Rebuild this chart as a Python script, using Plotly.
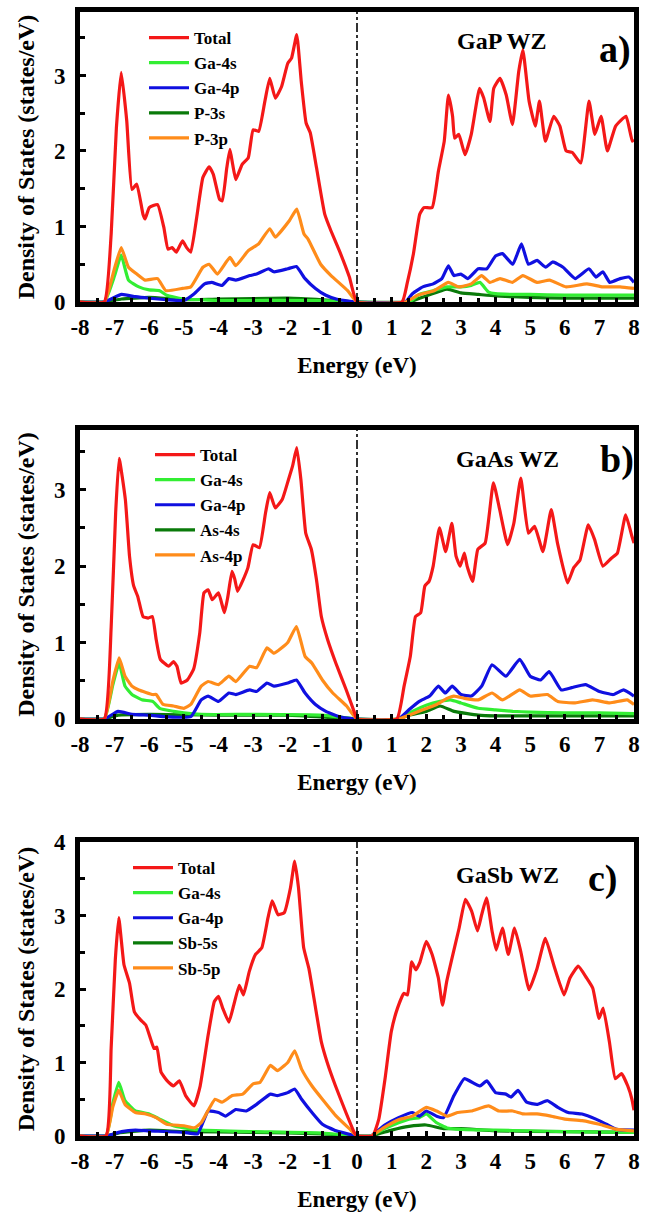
import plotly.graph_objects as go

# ---------------- DATA (Energy eV, DOS states/eV) ----------------
A_TOTAL = [(-8,0),(-7.3,0),(-7.1,0.9),(-6.95,2.3),(-6.81,3.04),(-6.65,2.4),(-6.5,1.49),(-6.36,1.56),(-6.18,1.16),(-6.12,1.1),(-6.0,1.25),(-5.76,1.29),(-5.58,0.99),(-5.46,0.70),(-5.34,0.72),(-5.22,0.66),(-5.04,0.81),(-4.92,0.72),(-4.8,0.66),(-4.63,1.12),(-4.45,1.65),(-4.27,1.79),(-4.15,1.69),(-3.97,1.36),(-3.89,1.34),(-3.76,1.78),(-3.67,2.02),(-3.59,1.82),(-3.5,1.62),(-3.32,1.82),(-3.14,1.91),(-3.0,2.28),(-2.84,2.26),(-2.66,2.66),(-2.52,2.96),(-2.36,2.70),(-2.18,2.85),(-2.0,3.16),(-1.89,3.23),(-1.74,3.54),(-1.61,2.92),(-1.47,2.37),(-1.35,2.24),(-1.17,1.78),(-0.93,1.16),(-0.75,0.94),(-0.51,0.68),(-0.22,0.33),(0,0),(1.3,0),(1.45,0.25),(1.63,0.64),(1.81,1.16),(1.93,1.25),(2.17,1.25),(2.35,1.73),(2.52,2.13),(2.64,2.74),(2.76,2.46),(2.82,2.17),(2.94,2.22),(3.12,1.95),(3.3,2.22),(3.54,2.83),(3.66,2.70),(3.84,2.39),(3.95,2.83),(4.13,2.96),(4.31,2.74),(4.49,2.35),(4.67,3.05),(4.79,3.34),(4.97,2.66),(5.15,2.33),(5.27,2.66),(5.44,2.13),(5.68,2.46),(5.86,2.33),(6.04,2.0),(6.22,1.98),(6.46,1.84),(6.7,2.66),(6.87,2.22),(7.05,2.46),(7.23,2.0),(7.47,2.33),(7.77,2.46),(7.95,2.13),(8,2.15)]
A_GA4S = [(-8,0),(-7.3,0),(-7.0,0.35),(-6.81,0.62),(-6.6,0.29),(-6.3,0.2),(-6.0,0.16),(-5.7,0.15),(-5.5,0.09),(-5.0,0.04),(-4.5,0.03),(-4,0.02),(-1,0.02),(0,0),(1.5,0),(1.8,0.1),(2.2,0.15),(2.6,0.2),(3.0,0.2),(3.3,0.22),(3.55,0.26),(3.8,0.13),(4.0,0.11),(4.5,0.1),(5,0.1),(6,0.09),(7,0.09),(8,0.09)]
A_GA4P = [(-8,0),(-7.3,0),(-6.8,0.1),(-6.4,0.07),(-6,0.05),(-5.5,0.03),(-5,0.02),(-4.7,0.11),(-4.4,0.24),(-4.2,0.26),(-3.9,0.22),(-3.7,0.31),(-3.5,0.29),(-3.1,0.35),(-2.9,0.37),(-2.55,0.44),(-2.4,0.4),(-2.0,0.44),(-1.75,0.47),(-1.5,0.31),(-1.2,0.18),(-0.9,0.09),(-0.6,0.04),(-0.2,0.01),(0,0),(1.4,0),(1.6,0.11),(1.9,0.2),(2.2,0.24),(2.45,0.31),(2.64,0.48),(2.8,0.35),(3.0,0.37),(3.2,0.31),(3.5,0.44),(3.75,0.44),(4.0,0.61),(4.2,0.64),(4.5,0.5),(4.75,0.77),(4.95,0.5),(5.2,0.55),(5.45,0.46),(5.65,0.53),(5.95,0.46),(6.3,0.31),(6.7,0.44),(6.9,0.33),(7.1,0.4),(7.3,0.26),(7.6,0.31),(7.85,0.33),(8,0.26)]
A_X_S = [(-8,0),(-7.3,0),(-6.8,0.04),(-6,0.06),(-5,0.03),(-4,0.04),(-2,0.05),(-1,0.03),(0,0),(1.5,0),(2,0.08),(2.6,0.17),(3,0.12),(3.5,0.1),(4,0.08),(5,0.06),(6,0.05),(8,0.05)]
A_X_P = [(-8,0),(-7.3,0),(-7.0,0.45),(-6.81,0.72),(-6.6,0.46),(-6.36,0.37),(-6.12,0.29),(-5.76,0.31),(-5.52,0.15),(-5.04,0.18),(-4.8,0.2),(-4.45,0.46),(-4.27,0.5),(-4.03,0.37),(-3.67,0.59),(-3.5,0.48),(-3.14,0.68),(-2.84,0.77),(-2.52,0.97),(-2.36,0.86),(-1.95,1.08),(-1.74,1.23),(-1.53,0.9),(-1.41,0.83),(-1.05,0.5),(-0.75,0.35),(-0.27,0.15),(0,0),(1.4,0),(1.75,0.09),(2.23,0.15),(2.64,0.26),(2.94,0.2),(3.3,0.24),(3.6,0.35),(3.84,0.26),(4.13,0.31),(4.49,0.26),(4.79,0.35),(5.2,0.26),(5.56,0.29),(6.04,0.2),(6.64,0.24),(7.1,0.2),(7.6,0.2),(8,0.18)]

B_TOTAL = [(-8,0),(-7.3,0),(-7.1,1.2),(-6.97,2.7),(-6.87,3.41),(-6.69,2.87),(-6.57,2.13),(-6.45,1.74),(-6.33,1.6),(-6.18,1.34),(-6.03,1.32),(-5.91,1.34),(-5.8,1.04),(-5.68,0.78),(-5.44,0.69),(-5.3,0.75),(-5.2,0.69),(-5.08,0.47),(-4.9,0.51),(-4.72,0.65),(-4.54,1.13),(-4.42,1.65),(-4.3,1.69),(-4.18,1.56),(-4.0,1.65),(-3.83,1.39),(-3.73,1.6),(-3.61,1.93),(-3.53,1.83),(-3.45,1.67),(-3.29,1.82),(-3.15,1.98),(-3.0,2.28),(-2.82,2.24),(-2.64,2.7),(-2.52,2.96),(-2.36,2.76),(-2.16,2.87),(-1.98,3.13),(-1.86,3.31),(-1.74,3.55),(-1.62,3.13),(-1.48,2.43),(-1.32,2.22),(-1.17,1.82),(-1.03,1.34),(-0.85,1.04),(-0.61,0.73),(-0.31,0.38),(-0.07,0.08),(0,0),(1.15,0),(1.36,0.43),(1.54,0.82),(1.69,1.34),(1.84,1.39),(1.96,1.74),(2.08,1.8),(2.2,2.0),(2.38,2.5),(2.56,2.19),(2.74,2.56),(2.86,2.13),(2.98,2.0),(3.1,2.17),(3.18,2.0),(3.34,1.8),(3.49,2.22),(3.7,2.3),(3.94,3.09),(4.12,2.74),(4.35,2.28),(4.53,2.56),(4.73,3.15),(4.95,2.43),(5.13,2.52),(5.37,2.19),(5.61,2.74),(5.79,2.3),(6.08,1.78),(6.26,1.98),(6.44,2.08),(6.68,2.54),(6.86,2.35),(7.1,2.0),(7.34,2.1),(7.52,2.17),(7.76,2.67),(7.94,2.39),(8,2.3)]
B_GA4S = [(-8,0),(-7.3,0),(-7.05,0.45),(-6.87,0.73),(-6.7,0.43),(-6.5,0.32),(-6.2,0.25),(-5.9,0.23),(-5.7,0.14),(-5.3,0.1),(-5.0,0.08),(-4.5,0.06),(-3,0.06),(-1,0.05),(0,0),(1.2,0),(1.6,0.1),(2.0,0.18),(2.4,0.23),(2.7,0.25),(3.0,0.21),(3.5,0.14),(4,0.12),(4.5,0.1),(5,0.09),(6,0.08),(7,0.08),(8,0.07)]
B_GA4P = [(-8,0),(-7.3,0),(-6.9,0.1),(-6.5,0.06),(-6,0.05),(-5.5,0.03),(-4.8,0.03),(-4.5,0.25),(-4.3,0.3),(-4.0,0.23),(-3.7,0.34),(-3.5,0.32),(-3.1,0.38),(-2.9,0.36),(-2.6,0.47),(-2.4,0.43),(-2.0,0.47),(-1.75,0.51),(-1.5,0.34),(-1.2,0.19),(-0.9,0.1),(-0.5,0.03),(0,0),(1.2,0),(1.5,0.12),(1.8,0.23),(2.1,0.3),(2.35,0.43),(2.55,0.34),(2.75,0.43),(3.0,0.32),(3.3,0.3),(3.6,0.43),(3.9,0.71),(4.3,0.56),(4.7,0.78),(5.0,0.56),(5.3,0.51),(5.55,0.62),(5.9,0.38),(6.2,0.41),(6.6,0.45),(7.0,0.36),(7.4,0.32),(7.7,0.38),(8,0.3)]
B_X_S = [(-8,0),(-7.3,0),(-6.9,0.05),(-6,0.06),(-4,0.05),(-2,0.05),(0,0),(1.2,0),(1.5,0.05),(2.0,0.1),(2.4,0.17),(2.8,0.1),(3.5,0.05),(4,0.04),(8,0.04)]
B_X_P = [(-8,0),(-7.3,0),(-7.05,0.5),(-6.87,0.8),(-6.7,0.56),(-6.5,0.43),(-6.3,0.38),(-5.9,0.32),(-5.8,0.32),(-5.6,0.19),(-5.3,0.17),(-5.0,0.14),(-4.8,0.19),(-4.5,0.43),(-4.3,0.49),(-4.0,0.45),(-3.7,0.56),(-3.5,0.49),(-3.1,0.69),(-2.9,0.67),(-2.6,0.93),(-2.4,0.86),(-2.0,1.0),(-1.75,1.21),(-1.5,0.82),(-1.3,0.73),(-1.0,0.51),(-0.7,0.34),(-0.3,0.17),(0,0),(1.2,0),(1.5,0.05),(1.9,0.12),(2.3,0.19),(2.6,0.27),(2.8,0.3),(3.1,0.27),(3.5,0.25),(3.9,0.34),(4.2,0.25),(4.7,0.38),(5.0,0.3),(5.5,0.32),(5.8,0.23),(6.3,0.21),(6.8,0.25),(7.3,0.21),(7.8,0.25),(8,0.19)]

C_TOTAL = [(-8,0),(-7.25,0),(-7.1,1.2),(-6.98,2.4),(-6.88,2.97),(-6.73,2.33),(-6.57,2.08),(-6.43,1.69),(-6.25,1.58),(-6.1,1.51),(-5.96,1.32),(-5.86,1.19),(-5.78,1.21),(-5.66,0.87),(-5.48,0.75),(-5.3,0.68),(-5.13,0.75),(-4.95,0.55),(-4.71,0.41),(-4.53,0.68),(-4.3,1.37),(-4.12,1.83),(-4.0,1.9),(-3.88,1.74),(-3.7,1.55),(-3.56,1.78),(-3.4,2.05),(-3.28,1.92),(-3.11,2.24),(-2.93,2.47),(-2.75,2.56),(-2.57,2.97),(-2.45,3.2),(-2.28,3.01),(-2.1,3.04),(-1.92,3.38),(-1.8,3.74),(-1.69,3.38),(-1.54,2.56),(-1.39,2.28),(-1.21,1.78),(-1.03,1.28),(-0.86,1.0),(-0.62,0.68),(-0.32,0.32),(-0.08,0.05),(0,0),(0.45,0),(0.63,0.23),(0.81,0.78),(0.99,1.42),(1.17,1.74),(1.35,1.94),(1.46,1.92),(1.58,2.37),(1.7,2.26),(1.82,2.37),(2.0,2.65),(2.17,2.47),(2.35,2.15),(2.47,1.78),(2.59,2.1),(2.77,2.47),(2.95,2.83),(3.13,3.22),(3.31,3.06),(3.48,2.79),(3.6,3.01),(3.74,3.24),(3.9,2.79),(4.02,2.53),(4.2,2.83),(4.37,2.47),(4.55,2.83),(4.73,2.51),(4.97,1.99),(5.2,2.28),(5.44,2.69),(5.68,2.33),(5.98,1.92),(6.15,2.15),(6.39,2.31),(6.63,2.15),(6.81,2.01),(6.99,1.6),(7.11,1.74),(7.29,1.28),(7.46,0.78),(7.64,0.85),(7.82,0.68),(7.94,0.5),(8,0.35)]
C_GA4S = [(-8,0),(-7.25,0),(-7.05,0.45),(-6.88,0.73),(-6.7,0.48),(-6.4,0.34),(-6.0,0.3),(-5.7,0.23),(-5.3,0.14),(-5.0,0.11),(-4.5,0.08),(-3,0.06),(-1,0.04),(0,0),(0.4,0),(0.8,0.1),(1.2,0.18),(1.5,0.23),(1.8,0.25),(2.0,0.3),(2.3,0.18),(2.6,0.11),(3,0.09),(4,0.08),(5,0.07),(6,0.06),(8,0.05)]
C_GA4P = [(-8,0),(-7.25,0),(-6.8,0.06),(-6.4,0.08),(-6,0.07),(-5,0.05),(-4.6,0.03),(-4.3,0.34),(-4.0,0.32),(-3.8,0.27),(-3.5,0.36),(-3.2,0.34),(-2.9,0.43),(-2.5,0.57),(-2.3,0.55),(-2.0,0.59),(-1.8,0.64),(-1.6,0.5),(-1.3,0.32),(-1.0,0.16),(-0.6,0.07),(0,0),(0.4,0),(0.8,0.15),(1.2,0.25),(1.6,0.32),(1.8,0.27),(2.0,0.34),(2.3,0.27),(2.5,0.25),(2.8,0.55),(3.1,0.78),(3.4,0.71),(3.55,0.68),(3.75,0.75),(4.0,0.59),(4.3,0.57),(4.45,0.53),(4.65,0.62),(4.9,0.46),(5.2,0.43),(5.5,0.48),(5.8,0.39),(6.1,0.32),(6.5,0.3),(6.9,0.23),(7.2,0.16),(7.5,0.09),(8,0.08)]
C_X_S = [(-8,0),(-7.25,0),(-6.9,0.04),(-6,0.08),(-5,0.06),(-3,0.05),(-1,0.03),(0,0),(0.4,0),(1.0,0.08),(1.5,0.13),(2.0,0.15),(2.5,0.1),(3,0.1),(4,0.07),(6,0.06),(8,0.05)]
C_X_P = [(-8,0),(-7.25,0),(-7.05,0.4),(-6.88,0.62),(-6.7,0.43),(-6.4,0.32),(-6.1,0.3),(-5.8,0.25),(-5.5,0.16),(-5.0,0.14),(-4.7,0.11),(-4.5,0.18),(-4.1,0.5),(-3.9,0.46),(-3.6,0.55),(-3.3,0.57),(-3.0,0.71),(-2.8,0.73),(-2.5,0.96),(-2.3,0.89),(-2.0,1.0),(-1.8,1.16),(-1.6,0.91),(-1.3,0.68),(-1.0,0.5),(-0.6,0.27),(-0.2,0.09),(0,0),(0.4,0),(0.8,0.12),(1.2,0.22),(1.6,0.27),(2.0,0.39),(2.3,0.34),(2.6,0.27),(2.9,0.32),(3.3,0.34),(3.8,0.41),(4.1,0.34),(4.5,0.34),(4.8,0.3),(5.2,0.3),(5.6,0.27),(6.0,0.23),(6.5,0.21),(7.0,0.16),(7.5,0.09),(8,0.07)]

X_TICKS = list(range(-8, 9))
Y_TICKS_AB = [0, 1, 2, 3]
Y_TICKS_C = [0, 1, 2, 3, 4]
A_NAMES = ["Total", "Ga-4s", "Ga-4p", "P-3s", "P-3p"]
B_NAMES = ["Total", "Ga-4s", "Ga-4p", "As-4s", "As-4p"]
C_NAMES = ["Total", "Ga-4s", "Ga-4p", "Sb-5s", "Sb-5p"]
MATERIALS = ["GaP WZ", "GaAs WZ", "GaSb WZ"]
LETTERS = ["a)", "b)", "c)"]
Y_MAX = [3.84, 3.78, 4.0]

# ---------------- STYLE ----------------
COLORS = ["#f41818", "#33ee33", "#1010e0", "#0a7a0a", "#ff8c1a"]
FONT = "Liberation Serif"
W, H = 645, 1222
X_DOM = [80 / W, 634 / W]
PANEL_PX = [(12, 302), (430, 719), (842, 1136)]   # top, bottom (y=0) in px
LEGEND_POS = [(144, 20), (150, 437), (128, 850)]
ANNOT_POS = [((4.2, 3.45), (7.45, 3.35)), ((4.35, 3.4), (7.5, 3.4)), ((4.35, 3.55), (7.1, 3.5))]

panels = [
    (A_NAMES, [A_TOTAL, A_GA4S, A_GA4P, A_X_S, A_X_P], Y_TICKS_AB),
    (B_NAMES, [B_TOTAL, B_GA4S, B_GA4P, B_X_S, B_X_P], Y_TICKS_AB),
    (C_NAMES, [C_TOTAL, C_GA4S, C_GA4P, C_X_S, C_X_P], Y_TICKS_C),
]

fig = go.Figure()
draw_order = [3, 1, 2, 4, 0]
for p, (names, series, yticks) in enumerate(panels):
    xa = "x" if p == 0 else f"x{p+1}"
    ya = "y" if p == 0 else f"y{p+1}"
    lg = "legend" if p == 0 else f"legend{p+1}"
    for i in draw_order:
        pts = series[i]
        fig.add_trace(go.Scatter(
            x=[q[0] for q in pts], y=[q[1] for q in pts], mode="lines",
            name=names[i], legend=lg, legendrank=i + 1, legendgroup=f"p{p}s{i}",
            line=dict(color=COLORS[i], width=3.2, shape="spline", smoothing=0.4),
            xaxis=xa, yaxis=ya, showlegend=True,
        ))

axis_font = dict(family=FONT, size=23, color="black", weight="bold")
title_font = dict(family=FONT, size=23, color="black", weight="bold")
layout = dict(width=W, height=H, margin=dict(l=0, r=0, t=0, b=0, autoexpand=False),
              paper_bgcolor="white", plot_bgcolor="white", showlegend=True)
shapes, annots = [], []
for p in range(3):
    top, bot = PANEL_PX[p]
    ydom = [1 - bot / H, 1 - top / H]
    sfx = "" if p == 0 else str(p + 1)
    yt = Y_TICKS_C if p == 2 else Y_TICKS_AB
    layout[f"xaxis{sfx}"] = dict(
        domain=X_DOM, anchor=f"y{sfx}", range=[-8, 8], tickvals=X_TICKS,
        ticktext=[str(v) for v in X_TICKS], ticks="inside", ticklen=5, tickwidth=3,
        tickcolor="black", showline=True, linewidth=5, linecolor="black", mirror=True,
        showgrid=False, zeroline=False, tickfont=axis_font, automargin=False,
        minor=dict(dtick=0.5, ticks="inside", ticklen=4, tickwidth=3, tickcolor="black"),
        title=dict(text="Energy (eV)", font=title_font, standoff=20),
    )
    layout[f"yaxis{sfx}"] = dict(
        domain=ydom, anchor=f"x{sfx}", range=[0, Y_MAX[p]], tickvals=yt,
        ticktext=[str(v) for v in yt], ticks="inside", ticklen=6, tickwidth=3,
        tickcolor="black", showline=True, linewidth=5, linecolor="black", mirror=True,
        showgrid=False, zeroline=False, tickfont=axis_font, ticklabelstandoff=5,
        automargin=False,
        minor=dict(dtick=0.5, ticks="inside", ticklen=5, tickwidth=3, tickcolor="black"),
        title=dict(text="Density of States (states/eV)", font=dict(family=FONT, size=24, color="black", weight="bold"), standoff=14),
    )
    lx, ly = LEGEND_POS[p]
    layout["legend" if p == 0 else f"legend{p+1}"] = dict(
        x=lx / W, y=1 - ly / H, xanchor="left", yanchor="top",
        bgcolor="rgba(0,0,0,0)", borderwidth=0, traceorder="grouped",
        tracegroupgap=0, itemwidth=40,
        font=dict(family=FONT, size=17, color="black", weight="bold"),
    )
    shapes.append(dict(type="line", xref=f"x{sfx}", yref=f"y{sfx} domain", x0=0, x1=0,
                       y0=0, y1=1, line=dict(color="black", width=1.6, dash="dashdot")))
    (mx, my), (lx2, ly2) = ANNOT_POS[p]
    annots.append(dict(x=mx, y=my, xref=f"x{sfx}", yref=f"y{sfx}", text=MATERIALS[p],
                       showarrow=False, font=dict(family=FONT, size=24, color="black", weight="bold")))
    annots.append(dict(x=lx2, y=ly2, xref=f"x{sfx}", yref=f"y{sfx}", text=LETTERS[p],
                       showarrow=False, font=dict(family=FONT, size=38, color="black", weight="bold")))
layout["shapes"] = shapes
layout["annotations"] = annots
fig.update_layout(**layout)
fig.write_html("out.html", config={"displayModeBar": False},
               post_script="document.body.style.margin='0';document.body.style.padding='0';")
